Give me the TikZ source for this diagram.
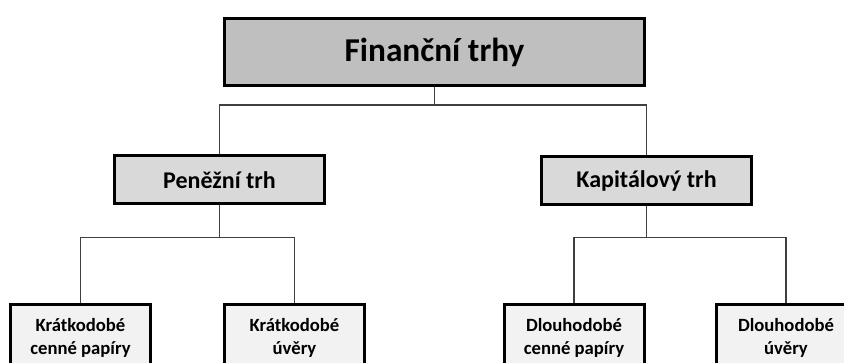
\documentclass[tikz,border=0pt]{standalone}
\usepackage{fontspec}
\setmainfont{Carlito}
\usetikzlibrary{positioning,calc}
\tikzset{
    root/.style={
        rectangle,
        draw=black,
        line width=2.25pt,
        fill=black!25,
        minimum width=315pt,
        minimum height=50pt,
        font=\bfseries\fontsize{25}{30}\selectfont,
    },
    market/.style={
        rectangle,
        draw=black,
        line width=2.25pt,
        fill=black!15,
        minimum width=157.5pt,
        minimum height=36pt,
        font=\bfseries\fontsize{18}{22}\selectfont,
    },
    leaf/.style={
        rectangle,
        draw=black,
        line width=2.25pt,
        fill=black!5,
        minimum width=105pt,
        minimum height=49.5pt,
        align=center,
        font=\bfseries\fontsize{14}{17.5}\selectfont,
    },
    link/.style={
        draw=black!75,
        line width=1.1pt,
    },
  }

\begin{document}
\begin{tikzpicture}[x=0.75pt,y=-0.75pt]
              \useasboundingbox (0,0) rectangle (844,363);
              \clip (0,0) rectangle (844,363);

              \node [root] (fin) at (434.5,52) {Finanční trhy};
              \node [market] (pen) at (219.5,180) {Peněžní trh};
              \node [market] (kap) at (646.5,181) {Kapitálový trh};
              \node [leaf] (kcp) at (80.5,338) {Krátkodobé\\cenné papíry};
              \node [leaf] (kuv) at (294.5,338) {Krátkodobé\\úvěry};
              \node [leaf] (dcp) at (574,338) {Dlouhodobé\\cenné papíry};
              \node [leaf] (duv) at (786,338) {Dlouhodobé\\úvěry};

              \coordinate (f0) at ($(fin.south)+(0,18)$);
              \coordinate (f1) at ($(pen.south)+(0,32)$);
              \coordinate (f2) at ($(kap.south)+(0,31)$);

              \draw[link] (fin.south) -- (f0);
              \draw[link] (f0) -| (pen.north);
              \draw[link] (f0) -| (kap.north);
              \draw[link] (pen.south) -- (f1);
              \draw[link] (f1) -| (kcp.north);
              \draw[link] (f1) -| (kuv.north);
              \draw[link] (kap.south) -- (f2);
              \draw[link] (f2) -| (dcp.north);
              \draw[link] (f2) -| (duv.north);

            \end{tikzpicture}
\end{document}
